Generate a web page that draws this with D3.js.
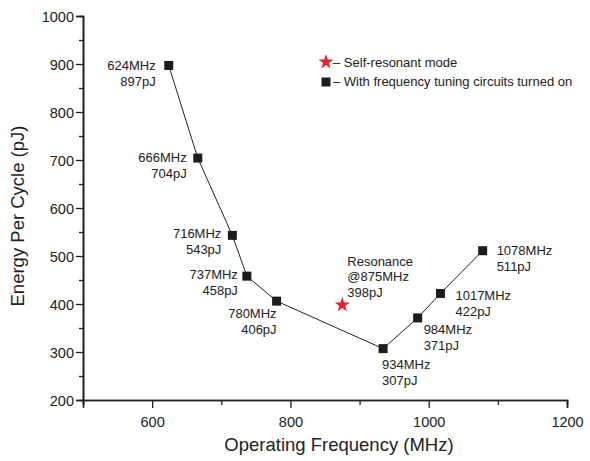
<!DOCTYPE html>
<html>
<head>
<meta charset="utf-8">
<script src="https://cdn.jsdelivr.net/npm/d3@7"></script>
<style>
    body { margin: 0; background: #fff; }
    text { font-family: "Liberation Sans", Arial, Helvetica, sans-serif; fill: #222; }
</style>
</head>
<body>
<div id="chart"></div>
<script>
const freqs = [624, 666, 716, 737, 780, 934, 984, 1017, 1078];
const energies = [897, 704, 543, 458, 406, 307, 371, 422, 511];
const resonanceFreq = 875;
const resonanceEnergy = 398;
const xTicks = [600, 800, 1000, 1200];
const yTicks = [200, 300, 400, 500, 600, 700, 800, 900, 1000];
const legendLabels = ["– Self-resonant mode", "– With frequency tuning circuits turned on"];

// label placement relative to each point: [anchor, dx, dy]
const labelPlacement = [
    ["end", -13, 5],
    ["end", -11, 4],
    ["end", -11, 3],
    ["end", -9, 3],
    ["end", 0, 17],
    ["start", -1, 20],
    ["start", 6, 16],
    ["start", 15, 7],
    ["start", 14, 4]
];

const width = 590;
const height = 461;
const margin = { left: 83, right: 23, top: 16, bottom: 61 };

const points = freqs.map((f, i) => ({ f: f, e: energies[i] }));

const svg = d3.select("#chart")
    .append("svg")
    .attr("width", width)
    .attr("height", height);

const x = d3.scaleLinear()
    .domain([500, 1200])
    .range([margin.left, width - margin.right]);

const y = d3.scaleLinear()
    .domain([200, 1000])
    .range([height - margin.bottom, margin.top]);

// axes
const xAxis = svg.append("g")
    .attr("transform", `translate(0,${height - margin.bottom})`)
    .call(d3.axisBottom(x).tickValues(xTicks).tickSize(8).tickPadding(6).tickFormat(d3.format("d")));

const xMinor = svg.append("g")
    .attr("transform", `translate(0,${height - margin.bottom})`)
    .call(d3.axisBottom(x).tickValues([500, 700, 900, 1100]).tickSize(5).tickFormat(""));

const yAxis = svg.append("g")
    .attr("transform", `translate(${margin.left},0)`)
    .call(d3.axisLeft(y).tickValues(yTicks).tickSize(7).tickPadding(2).tickFormat(d3.format("d")));

const yMinor = svg.append("g")
    .attr("transform", `translate(${margin.left},0)`)
    .call(d3.axisLeft(y).tickValues(d3.range(250, 1000, 100)).tickSize(4).tickFormat(""));

[xAxis, xMinor, yAxis, yMinor].forEach(g => {
    g.select(".domain").attr("stroke", "#222").attr("stroke-width", 1.6);
    g.selectAll(".tick line").attr("stroke", "#222").attr("stroke-width", 1.3);
    g.selectAll(".tick text").attr("font-size", "14.5px").attr("fill", "#222");
});
xAxis.selectAll(".tick text").attr("dy", "0.9em");
yAxis.selectAll(".tick text").attr("dy", "0.36em");

// axis titles
svg.append("text")
    .attr("x", 339)
    .attr("y", 451)
    .attr("text-anchor", "middle")
    .attr("font-size", "18.5px")
    .text("Operating Frequency (MHz)");

svg.append("text")
    .attr("transform", "translate(24,216) rotate(-90)")
    .attr("text-anchor", "middle")
    .attr("font-size", "18.5px")
    .text("Energy Per Cycle (pJ)");

// line
const line = d3.line()
    .x(d => x(d.f))
    .y(d => y(d.e));

svg.append("path")
    .datum(points)
    .attr("fill", "none")
    .attr("stroke", "#222")
    .attr("stroke-width", 1)
    .attr("d", line);

// square markers
svg.selectAll("rect.pt")
    .data(points)
    .enter()
    .append("rect")
    .attr("class", "pt")
    .attr("x", d => x(d.f) - 4.5)
    .attr("y", d => y(d.e) - 4.5)
    .attr("width", 9)
    .attr("height", 9)
    .attr("fill", "#1c1c1c");

// point labels
const labels = svg.selectAll("text.lbl")
    .data(points)
    .enter()
    .append("text")
    .attr("class", "lbl")
    .attr("font-size", "13px")
    .attr("text-anchor", (d, i) => labelPlacement[i][0]);

labels.append("tspan")
    .attr("x", (d, i) => x(d.f) + labelPlacement[i][1])
    .attr("y", (d, i) => y(d.e) + labelPlacement[i][2])
    .text(d => d.f + "MHz");

labels.append("tspan")
    .attr("x", (d, i) => x(d.f) + labelPlacement[i][1])
    .attr("y", (d, i) => y(d.e) + labelPlacement[i][2] + 16)
    .text(d => d.e + "pJ");

// resonance star
const star = d3.symbol().type(d3.symbolStar).size(70);

svg.append("path")
    .attr("d", star())
    .attr("transform", `translate(${x(resonanceFreq)},${y(resonanceEnergy)})`)
    .attr("fill", "#e8202a");

const resLines = ["Resonance", "@" + resonanceFreq + "MHz", resonanceEnergy + "pJ"];
svg.append("text")
    .attr("font-size", "13px")
    .selectAll("tspan")
    .data(resLines)
    .enter()
    .append("tspan")
    .attr("x", x(resonanceFreq) + 5)
    .attr("y", (d, i) => y(resonanceEnergy) - 39 + i * 15.5)
    .text(d => d);

// legend
const legend = svg.append("g").attr("transform", "translate(326,62)");

legend.append("path")
    .attr("d", star())
    .attr("fill", "#e8202a");

legend.append("rect")
    .attr("x", -4.5)
    .attr("y", 15.5)
    .attr("width", 9)
    .attr("height", 9)
    .attr("fill", "#1c1c1c");

legend.selectAll("text")
    .data(legendLabels)
    .enter()
    .append("text")
    .attr("x", 7)
    .attr("y", (d, i) => 4.5 + i * 19.5)
    .attr("font-size", "13px")
    .text(d => d);
</script>
</body>
</html>
